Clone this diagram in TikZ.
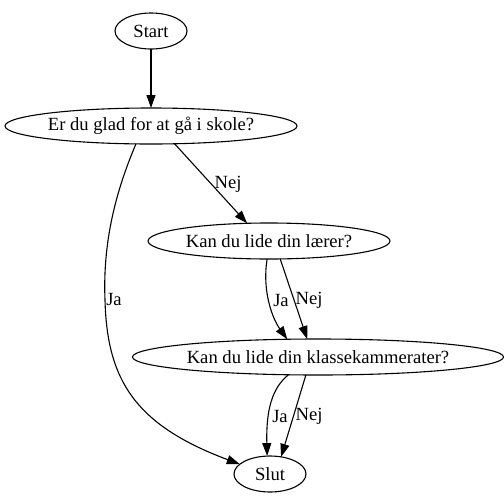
\documentclass[tikz,border=0pt]{standalone}
\usepackage{fontspec}
\setmainfont{Liberation Serif}
\usetikzlibrary{arrows.meta,shapes.geometric}

\begin{document}
\begin{tikzpicture}[
    x=1pt, y=-1pt,
    state/.style={draw, ellipse, inner sep=0pt, outer sep=0pt, minimum height=36pt, font=\fontsize{18.6pt}{21pt}\selectfont},
    lbl/.style={inner sep=1pt, font=\fontsize{18.6pt}{21pt}\selectfont},
    arr/.style={-{Triangle[length=13pt, width=9pt]}},
    line width=1.1pt
]
\useasboundingbox (0,0) rectangle (504,504);

\node[state, minimum width=72pt] (start) at (151, 31) {Start};
\node[state, minimum width=292pt] (glad) at (151, 126) {Er du glad for at gå i skole?};
\node[state, minimum width=242pt] (laerer) at (269, 241) {Kan du lide din lærer?};
\node[state, minimum width=354pt] (klasse) at (318, 357) {Kan du lide din klassekammerater?};
\node[state, minimum width=72pt] (slut) at (270, 474) {Slut};

% edges
\draw[arr] (start) -- (glad);
\draw[arr] (glad.323) -- (laerer.141);
\draw[arr] (glad.230) .. controls (112,200) and (103,250) .. (105,300)
    .. controls (107,380) and (135,425) .. (slut.162);
\draw[arr] (laerer.264) .. controls (262,290) and (272,318) .. (klasse.150);
\draw[arr] (laerer.302) -- (klasse.121);
\draw[arr] (klasse.211) .. controls (272,388) and (266,410) .. (slut.99);
\draw[arr] (klasse.236) -- (slut.57);

% edge labels
\node[lbl] (l-glad-nej) at (228, 184) {Nej};
\node[lbl] (l-glad-ja) at (114, 299) {Ja};
\node[lbl] (l-laerer-ja) at (281, 300) {Ja};
\node[lbl] (l-laerer-nej) at (309, 300) {Nej};
\node[lbl] (l-klasse-ja) at (280, 416) {Ja};
\node[lbl] (l-klasse-nej) at (309, 416) {Nej};
\end{tikzpicture}
\end{document}
